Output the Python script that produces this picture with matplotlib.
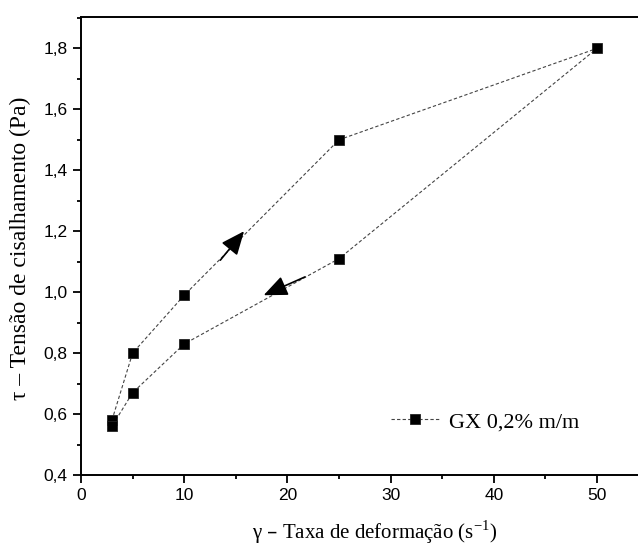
import matplotlib
matplotlib.use("Agg")
import matplotlib.pyplot as plt
from matplotlib.ticker import MultipleLocator, FuncFormatter

# Data
shear_rate_up = [3, 5, 10, 25, 50]
stress_up = [0.58, 0.80, 0.99, 1.50, 1.80]
shear_rate_down = [50, 25, 10, 5, 3]
stress_down = [1.80, 1.11, 0.83, 0.67, 0.56]
series_label = "GX 0,2% m/m"
x_label = "γ – Taxa de deformação (s$^{\\mathregular{-1}}$)"
y_label = "τ – Tensão de cisalhamento (Pa)"

fig = plt.figure(figsize=(6.38, 5.5), dpi=100)
ax = fig.add_axes([81/638, 75/550, 567.6/638, 458/550])

x_all = shear_rate_up + shear_rate_down[1:]
y_all = stress_up + stress_down[1:]
ax.plot(x_all, y_all, linestyle=(0, (3, 2)), color="#444444", linewidth=0.8,
        marker="s", markersize=6.5, markerfacecolor="black",
        markeredgecolor="#222222", markeredgewidth=0.6, label=series_label)

# direction arrows
arrow_kw = dict(arrowstyle="-|>,head_length=1.45,head_width=0.62",
                color="black", lw=1.2, shrinkA=0, shrinkB=0, mutation_scale=10)
ax.annotate("", xy=(15.8, 1.20), xytext=(13.5, 1.105), arrowprops=arrow_kw)
ax.annotate("", xy=(17.7, 0.99), xytext=(21.7, 1.05), arrowprops=arrow_kw)

ax.set_xlim(0, 55)
ax.set_ylim(0.4, 1.903)
ax.xaxis.set_major_locator(MultipleLocator(10))
ax.xaxis.set_minor_locator(MultipleLocator(5))
ax.yaxis.set_major_locator(MultipleLocator(0.2))
ax.yaxis.set_minor_locator(MultipleLocator(0.1))
ax.yaxis.set_major_formatter(FuncFormatter(lambda v, p: f"{v:.1f}".replace(".", ",")))

for s in ["left", "bottom", "top", "right"]:
    ax.spines[s].set_linewidth(1.4)
ax.tick_params(which="major", direction="out", length=6, width=1.3,
               labelsize=12.5, pad=3.5, top=False, right=False)
ax.tick_params(which="minor", direction="out", length=3.2, width=1.3,
               top=False, right=False)
for lab in ax.get_xticklabels() + ax.get_yticklabels():
    lab.set_fontfamily("Liberation Sans")

ax.set_xlabel(x_label, fontfamily="Liberation Serif", fontsize=15)
ax.set_ylabel(y_label, fontfamily="Liberation Serif", fontsize=17)
ax.xaxis.set_label_coords(0.517, -0.095)
ax.yaxis.set_label_coords(-0.088, 0.495)

leg = ax.legend(loc="center", bbox_to_anchor=(0.712, 0.116), frameon=False,
                prop={"family": "Liberation Serif", "size": 16},
                handlelength=2.2, handletextpad=0.45)

fig.savefig("out.png", dpi=100)
